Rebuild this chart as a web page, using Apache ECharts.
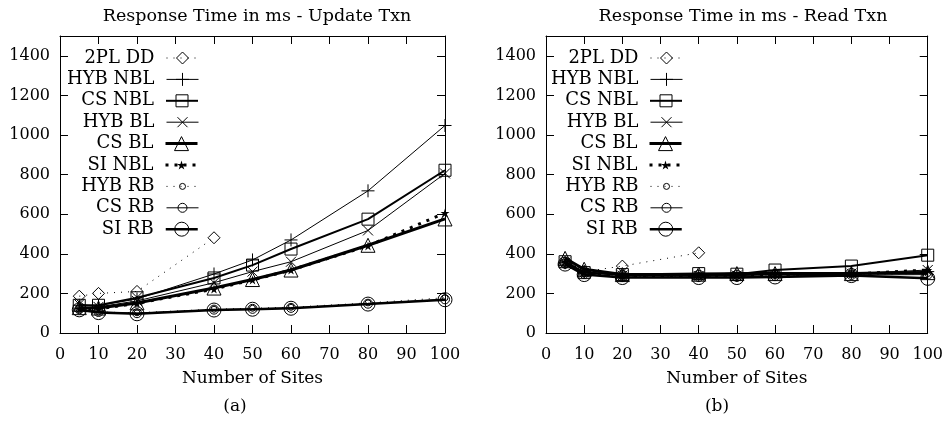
<!DOCTYPE html>
<html><head><meta charset="utf-8">
<script src="https://cdn.jsdelivr.net/npm/echarts@6/dist/echarts.min.js"></script>
<style>html,body{margin:0;padding:0;background:#fff}#c{width:946px;height:423px}</style>
</head><body><div id="c"></div>
<script>
// ---- data ----
const sites = [5, 10, 20, 40, 50, 60, 80, 100];
const seriesNames = ['2PL DD','HYB NBL','CS NBL','HYB BL','CS BL','SI NBL','HYB RB','CS RB','SI RB'];
// Update Txn (a)
const upd_2plDD  = [186, 200, 210, 481];
const upd_hybNBL = [140, 138, 172, 298, 369, 470, 718, 1048];
const upd_csNBL  = [140, 140, 178, 278, 343, 424, 575, 822];
const upd_hybBL  = [145, 132, 162, 254, 310, 360, 518, 806];
const upd_csBL   = [128, 126, 152, 227, 270, 318, 443, 576];
const upd_siNBL  = [122, 122, 150, 222, 268, 318, 440, 606];
const upd_hybRB  = [118, 106, 102, 120, 125, 130, 152, 178];
const upd_csRB   = [120, 106, 100, 118, 122, 127, 148, 170];
const upd_siRB   = [117, 103, 97, 116, 120, 125, 146, 168];
// Read Txn (b)
const rd_2plDD  = [355, 310, 338, 405];
const rd_hybNBL = [355, 310, 290, 290, 290, 295, 305, 310];
const rd_csNBL  = [360, 305, 295, 300, 297, 318, 338, 393];
const rd_hybBL  = [355, 305, 290, 288, 290, 295, 300, 318];
const rd_csBL   = [377, 322, 295, 297, 300, 300, 300, 305];
const rd_siNBL  = [360, 305, 288, 292, 292, 297, 298, 318];
const rd_hybRB  = [350, 300, 285, 285, 285, 290, 295, 300];
const rd_csRB   = [350, 298, 283, 283, 283, 288, 293, 295];
const rd_siRB   = [348, 295, 280, 280, 280, 283, 290, 276];
const xTicks = { min: 0, max: 100, interval: 10 };
const yTicks = { min: 0, max: 1500, interval: 200 };

// ---- styles ----
const FONT = 'DejaVu Serif';
const SYM = {
  plus: 'path://M0,5L10,5M5,0L5,10',
  cross: 'path://M0,0L10,10M10,0L0,10',
  star: 'path://M5,0L6.2,3.6L10,3.6L6.9,5.9L8.1,9.5L5,7.3L1.9,9.5L3.1,5.9L0,3.6L3.8,3.6Z'
};
const hollow = { color: 'rgba(0,0,0,0)', borderColor: '#000', borderWidth: 1 };
const styles = [
  { symbol: 'diamond', symbolSize: 12, line: { width: 1, type: [1, 6] }, item: hollow },
  { symbol: SYM.plus, symbolSize: 13, line: { width: 1, type: 'solid' }, item: hollow },
  { symbol: 'rect', symbolSize: 12, line: { width: 2, type: 'solid' }, item: hollow },
  { symbol: SYM.cross, symbolSize: 10, line: { width: 1, type: 'solid' }, item: hollow },
  { symbol: 'triangle', symbolSize: 14, line: { width: 3, type: 'solid' }, item: hollow },
  { symbol: SYM.star, symbolSize: 9, line: { width: 3, type: [3, 6] }, item: { color: '#000', borderColor: '#000', borderWidth: 0 } },
  { symbol: 'circle', symbolSize: 6, line: { width: 1, type: [1, 6] }, item: hollow },
  { symbol: 'circle', symbolSize: 9, line: { width: 1, type: 'solid' }, item: hollow },
  { symbol: 'circle', symbolSize: 14, line: { width: 2.5, type: 'solid' }, item: hollow }
];
const updData = [upd_2plDD, upd_hybNBL, upd_csNBL, upd_hybBL, upd_csBL, upd_siNBL, upd_hybRB, upd_csRB, upd_siRB];
const rdData = [rd_2plDD, rd_hybNBL, rd_csNBL, rd_hybBL, rd_csBL, rd_siNBL, rd_hybRB, rd_csRB, rd_siRB];

function mkSeries(dataSets, axisIdx) {
  return dataSets.map((vals, i) => ({
    type: 'line', name: seriesNames[i],
    xAxisIndex: axisIdx, yAxisIndex: axisIdx,
    data: vals.map((v, k) => [sites[k], v]),
    symbol: styles[i].symbol, symbolSize: styles[i].symbolSize,
    showAllSymbol: true, animation: false, silent: true,
    lineStyle: Object.assign({ color: '#000' }, styles[i].line),
    itemStyle: styles[i].item
  }));
}

const grids = [
  { left: 60, top: 36, width: 385, height: 297 },
  { left: 546, top: 36, width: 384, height: 297 }
];
const tick = { show: true, inside: true, length: 8, lineStyle: { color: '#000', width: 1 } };
const axLine = { show: true, onZero: false, lineStyle: { color: '#000', width: 1 } };
const lbl = { color: '#000', fontFamily: FONT, fontSize: 16 };
const nameLbl = { color: '#000', fontFamily: FONT, fontSize: 17 };

const xAxes = [], yAxes = [];
[0, 1].forEach(g => {
  xAxes.push({ type: 'value', gridIndex: g, position: 'bottom', min: xTicks.min, max: xTicks.max, interval: xTicks.interval,
    axisLine: axLine, axisTick: tick, splitLine: { show: false },
    axisLabel: Object.assign({ margin: 14, formatter: v => String(v) }, lbl),
    name: 'Number of Sites', nameLocation: 'middle', nameGap: 37, nameTextStyle: nameLbl });
  xAxes.push({ type: 'value', gridIndex: g, position: 'top', min: xTicks.min, max: xTicks.max, interval: xTicks.interval,
    axisLine: axLine, axisTick: tick, splitLine: { show: false }, axisLabel: { show: false } });
  yAxes.push({ type: 'value', gridIndex: g, position: 'left', min: yTicks.min, max: yTicks.max, interval: yTicks.interval,
    axisLine: axLine, axisTick: tick, splitLine: { show: false },
    axisLabel: Object.assign({ margin: 10, showMaxLabel: false, formatter: v => String(v) }, lbl) });
  yAxes.push({ type: 'value', gridIndex: g, position: 'right', min: yTicks.min, max: yTicks.max, interval: yTicks.interval,
    axisLine: axLine, axisTick: tick, splitLine: { show: false }, axisLabel: { show: false } });
});
// series use axis indices 0 (grid0) and 2 (grid1)
const series = mkSeries(updData, 0).concat(mkSeries(rdData, 2));

const legends = [];
[[747, 0], [263, 1]].forEach(([rightPos, g]) => {
  seriesNames.forEach((n, i) => {
    const st = styles[i];
    legends.push({
      data: [n], orient: 'horizontal', align: 'right', right: rightPos, top: 57 - 8 + i * 21.4,
      padding: 0, itemWidth: 32, itemHeight: st.symbolSize / 0.8, selectedMode: false,
      lineStyle: Object.assign({ color: '#000' }, st.line),
      itemStyle: Object.assign({}, st.item),
      textStyle: { color: '#000', fontFamily: FONT, fontSize: 18, padding: [0, 7, 0, 0] }
    });
  });
});

const chart = echarts.init(document.getElementById('c'), null, { renderer: 'canvas' });
chart.setOption({
  backgroundColor: '#fff',
  animation: false,
  title: [
    { text: 'Response Time in ms - Update Txn', left: 252, top: 2, textAlign: 'center',
      textStyle: { fontFamily: FONT, fontWeight: 'normal', fontSize: 17.5, color: '#000' } },
    { text: 'Response Time in ms - Read Txn', left: 738, top: 2, textAlign: 'center',
      textStyle: { fontFamily: FONT, fontWeight: 'normal', fontSize: 17.5, color: '#000' } }
  ],
  grid: grids,
  xAxis: xAxes,
  yAxis: yAxes,
  legend: legends,
  series: series,
  graphic: [
    { type: 'text', x: 235, y: 407, style: { text: '(a)', fontFamily: FONT, fontSize: 17, fill: '#000', textAlign: 'center', textVerticalAlign: 'middle' } },
    { type: 'text', x: 717, y: 407, style: { text: '(b)', fontFamily: FONT, fontSize: 17, fill: '#000', textAlign: 'center', textVerticalAlign: 'middle' } }
  ]
});
</script></body></html>
